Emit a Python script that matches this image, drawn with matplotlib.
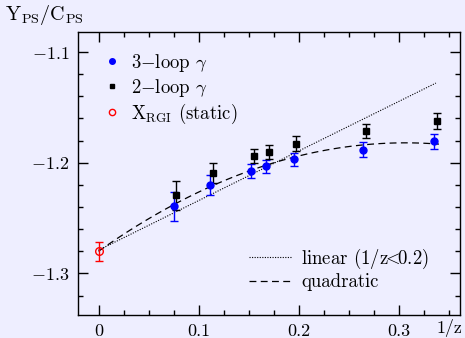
import numpy as np
import matplotlib
matplotlib.use("Agg")
import matplotlib.pyplot as plt
from matplotlib.lines import Line2D

plt.rcParams['font.family'] = 'serif'
plt.rcParams['font.serif'] = ['cmr10']
plt.rcParams['mathtext.fontset'] = 'cm'
plt.rcParams['axes.formatter.use_mathtext'] = True

# data
x3 = [0.075, 0.1117, 0.1524, 0.1677, 0.195, 0.2644, 0.335]
y3 = [-1.2395, -1.2205, -1.2076, -1.2034, -1.197, -1.1883, -1.1808]
e3 = [0.0135, 0.009, 0.0063, 0.006, 0.0062, 0.0068, 0.007]

x2 = [0.077, 0.1147, 0.155, 0.1704, 0.1977, 0.267, 0.3384]
y2 = [-1.2295, -1.2094, -1.1943, -1.190, -1.1828, -1.1711, -1.1624]
e2 = [0.0133, 0.009, 0.0063, 0.0063, 0.0066, 0.0065, 0.007]

x_rgi = [0.0]
y_rgi = [-1.2801]
e_rgi = [0.0088]

# fits
lin_a, lin_b = -1.279, 0.448
quad_a, quad_b, quad_c = -1.28, 0.639, -1.042

bg = '#EEEEFF'
fs = 13
fig = plt.figure(figsize=(4.65, 3.38), dpi=100, facecolor=bg)
ax = fig.add_axes([0.1677, 0.0666, 0.8225, 0.8384], facecolor=bg)

xl = np.linspace(0, 0.337, 100)
l1, = ax.plot(xl, lin_a + lin_b * xl, ls=(0, (1, 1.3)), color='k', lw=0.8,
              label=r'linear (1/z$\!\!<\!\!$0.2)')
xq = np.linspace(0, 0.34, 100)
l2, = ax.plot(xq, quad_a + quad_b * xq + quad_c * xq**2, ls=(0, (5.5, 3.5)),
              color='k', lw=0.9, label='quadratic')

ax.errorbar(x3, y3, yerr=e3, fmt='o', color='#0000FF', ms=5, capsize=3,
            elinewidth=1, capthick=1)
ax.errorbar(x2, y2, yerr=e2, fmt='s', color='k', ms=4.5, capsize=3,
            elinewidth=1, capthick=1)
ax.errorbar(x_rgi, y_rgi, yerr=e_rgi, fmt='o', color='#FF0000', mfc='none',
            ms=5.5, capsize=3, elinewidth=1, capthick=1)

ax.set_xlim(-0.0205, 0.3615)
ax.set_ylim(-1.338, -1.082)
ax.set_xticks([0, 0.1, 0.2, 0.3])
ax.set_xticklabels(['0', '0.1', '0.2', '0.3'])
ax.set_xticks(np.arange(0, 0.36, 0.025), minor=True)
ax.set_yticks([-1.3, -1.2, -1.1])
ax.set_yticks(np.arange(-1.32, -1.08, 0.02), minor=True)
ax.tick_params(which='both', direction='in', top=True, right=True,
               labelsize=fs, width=1)
ax.tick_params(which='major', length=7, pad=6)
ax.tick_params(which='minor', length=3.5)
for s in ax.spines.values():
    s.set_linewidth(1)

fig.text(0.01, 0.955, r'Y$_{\rm PS}$/C$_{\rm PS}$', fontsize=14.5, ha='left', va='center')
fig.text(0.995, 0.03, '1/z', fontsize=fs, ha='right', va='center')

p3 = Line2D([], [], ls='none', marker='o', color='#0000FF', ms=4)
p2 = Line2D([], [], ls='none', marker='s', color='k', ms=3.5)
pr = Line2D([], [], ls='none', marker='o', color='#FF0000', mfc='none', ms=4.5)
leg1 = ax.legend([p3, p2, pr],
                 [r'3$-$loop $\gamma$', r'2$-$loop $\gamma$', r'X$_{\rm RGI}$ (static)'],
                 loc='upper left', bbox_to_anchor=(0.07, 0.93), borderpad=0,
                 frameon=False, fontsize=13.5, handlelength=0.8,
                 handletextpad=0.6, labelspacing=0.15, borderaxespad=0)
ax.add_artist(leg1)
ax.legend(handles=[l1, l2], loc='lower left', bbox_to_anchor=(0.447, 0.085),
          borderpad=0, borderaxespad=0, frameon=False, fontsize=13.5,
          handlelength=2.3, handletextpad=0.5, labelspacing=0.15)

fig.savefig('out.png', dpi=100, facecolor=bg)
